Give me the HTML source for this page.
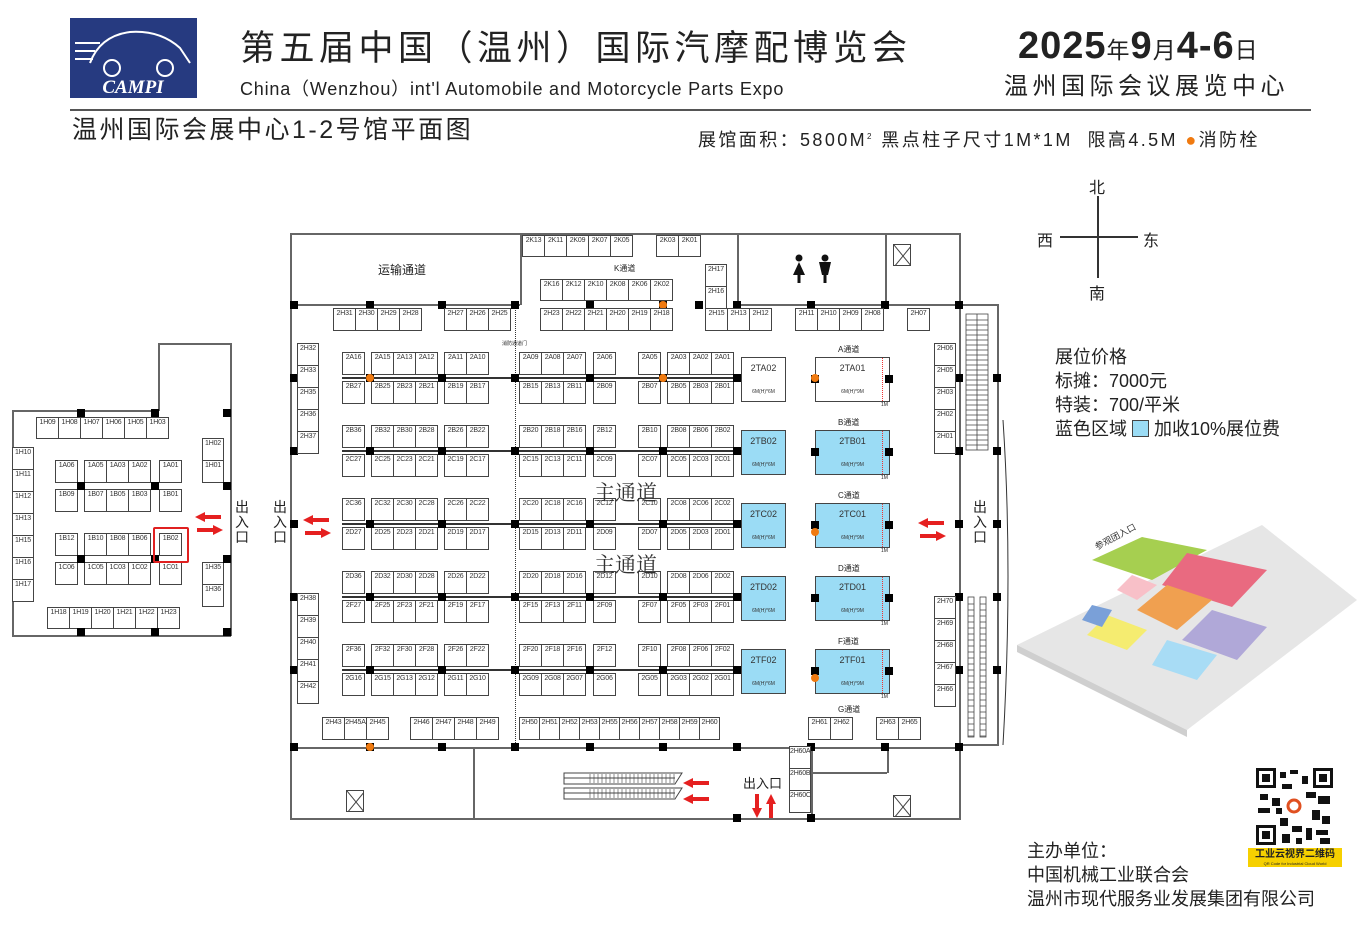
<!DOCTYPE html>
<html><head><meta charset="utf-8">
<style>
*{margin:0;padding:0;box-sizing:border-box}
body{width:1367px;height:937px;background:#fff;position:relative;overflow:hidden;font-family:"Liberation Sans","Noto Sans CJK SC",sans-serif;color:#222}
.a{position:absolute}
.b{position:absolute;border:1px solid #444;background:#fff;font-size:7px;text-align:center;line-height:10px;color:#333;white-space:nowrap;overflow:hidden;letter-spacing:-0.2px}
.bl{background:#9bdcf5}
.p{position:absolute;width:8px;height:8px;background:#000}
.o{position:absolute;width:8px;height:8px;border-radius:50%;background:#f07a10}
.l{position:absolute;background:#666}
.t{position:absolute;white-space:nowrap}
.big{position:absolute;border:1.5px solid #444;text-align:center;font-size:9px;color:#333}
.big .s{position:absolute;bottom:6px;left:0;right:0;font-size:5px}
.x{position:absolute;border:1px solid #444}
</style></head><body>

<!-- header -->
<div class="a" style="left:70px;top:18px;width:127px;height:80px;background:#263a80"></div>
<svg class="a" style="left:70px;top:18px" width="127" height="80"><g fill="none" stroke="#fff" stroke-width="2"><path d="M20 45 Q30 18 60 14 Q90 12 110 30 L120 45"/><circle cx="42" cy="50" r="8"/><circle cx="95" cy="50" r="8"/><path d="M5 25h25M5 33h20M5 41h18"/></g><text x="63" y="75" fill="#fff" font-family="Liberation Serif" font-style="italic" font-weight="bold" font-size="19" text-anchor="middle">CAMPI</text></svg>
<div class="t" style="left:240px;top:24px;font-size:35px;letter-spacing:4.5px;font-family:'Noto Sans CJK SC',sans-serif;line-height:44px">第五届中国（温州）国际汽摩配博览会</div>
<div class="t" style="left:240px;top:78px;font-size:18px;line-height:22px;letter-spacing:0.8px">China（Wenzhou）int'l Automobile and Motorcycle Parts Expo</div>
<div class="t" style="left:1018px;top:22px;font-size:38px;font-weight:bold;line-height:48px;letter-spacing:1px">2025<span style="font-size:23px;font-weight:normal">年</span>9<span style="font-size:23px;font-weight:normal">月</span>4-6<span style="font-size:23px;font-weight:normal">日</span></div>
<div class="t" style="left:1004px;top:72px;font-size:24px;letter-spacing:4.5px;line-height:30px">温州国际会议展览中心</div>
<div class="a" style="left:70px;top:109px;width:1241px;height:2px;background:#555"></div>
<div class="t" style="left:72px;top:115px;font-size:25px;letter-spacing:2.5px;line-height:30px">温州国际会展中心1-2号馆平面图</div>
<div class="t" style="left:698px;top:125px;font-size:18px;letter-spacing:2.4px;line-height:24px">展馆面积：5800M<sup style="font-size:8px">2</sup> 黑点柱子尺寸1M*1M&nbsp; 限高4.5M <span style="color:#f07a10">●</span>消防栓</div>

<!-- compass -->
<div class="l" style="left:1097px;top:196px;width:2px;height:82px;background:#333"></div>
<div class="l" style="left:1060px;top:236px;width:78px;height:2px;background:#333"></div>
<div class="t" style="left:1089px;top:174px;font-size:16px">北</div>
<div class="t" style="left:1089px;top:280px;font-size:16px">南</div>
<div class="t" style="left:1037px;top:227px;font-size:16px">西</div>
<div class="t" style="left:1143px;top:227px;font-size:16px">东</div>

<div class="t" style="left:1055px;top:345px;font-size:18px;line-height:24px">展位价格<br>标摊：7000元<br>特装：700/平米<br>蓝色区域 <span style="display:inline-block;width:17px;height:17px;background:#9bdcf5;border:1px solid #444;vertical-align:-2px"></span> 加收10%展位费</div>

<!-- map -->
<svg class="a" style="left:1012px;top:515px" width="350" height="225">
<polygon points="5,130 250,10 345,85 175,215" fill="#e6e6e6"/>
<polygon points="5,130 175,215 175,222 5,137" fill="#cfcfcf"/>
<polygon points="130,22 195,35 140,65 80,45" fill="#a6cf50"/>
<polygon points="175,38 255,55 220,92 150,70" fill="#e96a80"/>
<polygon points="155,70 200,85 165,115 125,95" fill="#f0a050"/>
<polygon points="200,95 255,112 225,145 170,125" fill="#b0a8d8"/>
<polygon points="120,60 145,70 125,85 105,75" fill="#f8c0c8"/>
<polygon points="95,100 135,115 115,135 75,120" fill="#f5ec70"/>
<polygon points="155,125 205,140 185,165 140,150" fill="#a8dcf5"/>
<polygon points="80,90 100,95 90,112 70,105" fill="#7aa0d8"/>
<text x="85" y="35" font-size="9" transform="rotate(-28 85 35)" fill="#333">参观团入口</text>
</svg>

<!-- QR -->
<svg class="a" style="left:1256px;top:768px" width="77" height="77">
<rect width="77" height="77" fill="#fff"/>
<g fill="#111">
<rect x="0" y="0" width="20" height="20"/><rect x="57" y="0" width="20" height="20"/><rect x="0" y="57" width="20" height="20"/>
<rect x="24" y="4" width="6" height="6"/><rect x="34" y="2" width="8" height="4"/><rect x="46" y="8" width="6" height="8"/><rect x="26" y="16" width="10" height="5"/><rect x="4" y="26" width="8" height="6"/><rect x="16" y="30" width="8" height="8"/><rect x="2" y="40" width="12" height="5"/><rect x="50" y="24" width="10" height="6"/><rect x="62" y="28" width="12" height="8"/><rect x="56" y="42" width="8" height="10"/><rect x="66" y="48" width="8" height="8"/><rect x="24" y="50" width="8" height="8"/><rect x="36" y="58" width="10" height="6"/><rect x="50" y="60" width="6" height="12"/><rect x="60" y="62" width="12" height="5"/><rect x="26" y="66" width="8" height="9"/><rect x="40" y="70" width="6" height="6"/><rect x="64" y="70" width="10" height="6"/><rect x="20" y="40" width="6" height="6"/>
</g>
<g fill="#fff"><rect x="3" y="3" width="14" height="14"/><rect x="60" y="3" width="14" height="14"/><rect x="3" y="60" width="14" height="14"/></g>
<g fill="#111"><rect x="6" y="6" width="8" height="8"/><rect x="63" y="6" width="8" height="8"/><rect x="6" y="63" width="8" height="8"/></g>
<circle cx="38" cy="38" r="9" fill="#fff"/><circle cx="38" cy="38" r="6" fill="none" stroke="#e05020" stroke-width="3"/>
</svg>
<div class="a" style="left:1248px;top:848px;width:94px;height:19px;background:#f6d000;text-align:center;font-size:10px;font-weight:bold;line-height:13px">工业云视界二维码<div style="font-size:4px;font-weight:normal;line-height:5px">QR Code for Industrial Cloud World</div></div>

<div class="t" style="left:1027px;top:839px;font-size:18px;line-height:24px">主办单位：<br>中国机械工业联合会<br>温州市现代服务业发展集团有限公司</div>

<div id="fp"></div>
<script>
var H='';
function B(x,y,w,h,t,c){H+='<div class="b'+(c?' bl':'')+'" style="left:'+x+'px;top:'+y+'px;width:'+w+'px;height:'+h+'px">'+t+'</div>';}
function P(x,y){H+='<div class="p" style="left:'+(x-4)+'px;top:'+(y-4)+'px"></div>';}
function O(x,y){H+='<div class="o" style="left:'+(x-4)+'px;top:'+(y-4)+'px"></div>';}
function L(x,y,w,h,c){H+='<div class="l" style="left:'+x+'px;top:'+y+'px;width:'+w+'px;height:'+h+'px'+(c?';background:'+c:'')+'"></div>';}
function T(x,y,s,t,e){H+='<div class="t" style="left:'+x+'px;top:'+y+'px;font-size:'+s+'px;'+(e||'')+'">'+t+'</div>';}
function X(x,y,w,h){H+='<svg class="x" style="left:'+x+'px;top:'+y+'px" width="'+w+'" height="'+h+'"><path d="M0 0L'+w+' '+h+'M'+w+' 0L0 '+h+'" stroke="#444"/></svg>';}
function row(x0,y,w,h,arr){for(var i=0;i<arr.length;i++)B(x0+i*w,y,w+1,h,arr[i]);}
function col(x,y0,w,h,arr){for(var i=0;i<arr.length;i++)B(x,y0+i*h,w,h+1,arr[i]);}

/* ===== Hall 1 ===== */
L(12,410,146,1.5);L(158,343,1.5,68);L(158,343,73,1.5);L(230,343,1.5,293);L(12,410,1.5,226);L(12,635,219,1.5);
row(36,417,22,22,['1H09','1H08','1H07','1H06','1H05','1H03']);
col(12,447,22,22,['1H10','1H11','1H12','1H13','1H15','1H16','1H17']);
B(55,460,23,23,'1A06');row(84,460,22,23,['1A05','1A03','1A02']);B(159,460,23,23,'1A01');
B(55,489,23,23,'1B09');row(84,489,22,23,['1B07','1B05','1B03']);B(159,489,23,23,'1B01');
B(55,533,23,23,'1B12');row(84,533,22,23,['1B10','1B08','1B06']);B(159,533,23,23,'1B02');
B(55,562,23,23,'1C06');row(84,562,22,23,['1C05','1C03','1C02']);B(159,562,23,23,'1C01');
col(202,438,22,22,['1H02','1H01']);col(202,562,22,22,['1H35','1H36']);
row(47,607,22,22,['1H18','1H19','1H20','1H21','1H22','1H23']);
P(81,413);P(155,413);P(227,413);P(81,486);P(155,486);P(227,486);P(81,559);P(155,559);P(227,559);P(81,632);P(155,632);P(227,632);
H+='<div class="a" style="left:153px;top:527px;width:36px;height:36px;border:2.5px solid #e02020;border-radius:2px"></div>';
T(235,500,14,'出<br>入<br>口','line-height:15px');

/* ===== Hall 2 walls ===== */
L(290,233,670,1.5);L(290,233,1.5,587);L(959,233,1.5,587);L(290,818,670,1.5);
L(290,304,230,1.5);L(520,233,1.5,72);L(737,233,1.5,72);L(737,304,222,1.5);L(885,233,1.5,72);
L(959,304,38,1.5);L(997,304,1.5,442);L(959,744,38,1.5);
L(290,747,669,1.5);L(473,747,1.5,72);L(811,747,1.5,72);L(811,772,76,1.5);L(887,747,1.5,26);
H+='<div class="a" style="left:515px;top:305px;width:0;height:440px;border-left:1.5px dotted #333"></div>';
T(502,340,5,'消防通道门');
T(378,261,12,'运输通道');T(614,263,8,'K通道');
[294,370,442,515,590,663,737,811,885,959].forEach(function(x){P(x,305);});P(699,305);
[378,451,524,597,670].forEach(function(y){P(294,y);P(959,y);P(997,y);});
[294,370,442,515,590,663,737,811,885,959].forEach(function(x){P(x,747);});P(737,818);P(811,818);
O(370,747);O(663,305);
X(893,244,18,22);
H+='<svg class="a" style="left:788px;top:254px" width="50" height="32"><circle cx="11" cy="4" r="3.5" fill="#111"/><path d="M11 8L5 21H17Z" fill="#111"/><rect x="9.5" y="20" width="3" height="9" fill="#111"/><circle cx="37" cy="4" r="3.5" fill="#111"/><path d="M31 8H43L40 21H34Z" fill="#111"/><rect x="35.5" y="20" width="3" height="9" fill="#111"/></svg>';
row(522,235,22,22,['2K13','2K11','2K09','2K07','2K05']);row(656,235,22,22,['2K03','2K01']);
row(540,279,22,22,['2K16','2K12','2K10','2K08','2K06','2K02']);
row(540,308,22,23,['2H23','2H22','2H21','2H20','2H19','2H18']);
col(705,264,22,22,['2H17','2H16']);row(705,308,22,23,['2H15','2H13','2H12']);
row(333,308,22,23,['2H31','2H30','2H29','2H28']);row(444,308,22,23,['2H27','2H26','2H25']);
row(795,308,22,23,['2H11','2H10','2H09','2H08']);B(907,308,23,23,'2H07');
col(297,343,22,22,['2H32','2H33','2H35','2H36','2H37']);
col(297,593,22,22,['2H38','2H39','2H40','2H41','2H42']);
col(934,343,22,22,['2H06','2H05','2H03','2H02','2H01']);
col(934,596,22,22,['2H70','2H69','2H68','2H67','2H66']);
var cols=[[342],[371,393,415],[444,466],[519,541,563],[593],[638],[667,689,711]];
function blk(y,labs){var k=0;for(var c=0;c<cols.length;c++)for(var j=0;j<cols[c].length;j++){B(cols[c][j],y,23,23,labs[k++]);}}
var R=[[352,'2A16 2A15 2A13 2A12 2A11 2A10 2A09 2A08 2A07 2A06 2A05 2A03 2A02 2A01'],
[381,'2B27 2B25 2B23 2B21 2B19 2B17 2B15 2B13 2B11 2B09 2B07 2B05 2B03 2B01'],
[425,'2B36 2B32 2B30 2B28 2B26 2B22 2B20 2B18 2B16 2B12 2B10 2B08 2B06 2B02'],
[454,'2C27 2C25 2C23 2C21 2C19 2C17 2C15 2C13 2C11 2C09 2C07 2C05 2C03 2C01'],
[498,'2C36 2C32 2C30 2C28 2C26 2C22 2C20 2C18 2C16 2C12 2C10 2C08 2C06 2C02'],
[527,'2D27 2D25 2D23 2D21 2D19 2D17 2D15 2D13 2D11 2D09 2D07 2D05 2D03 2D01'],
[571,'2D36 2D32 2D30 2D28 2D26 2D22 2D20 2D18 2D16 2D12 2D10 2D08 2D06 2D02'],
[600,'2F27 2F25 2F23 2F21 2F19 2F17 2F15 2F13 2F11 2F09 2F07 2F05 2F03 2F01'],
[644,'2F36 2F32 2F30 2F28 2F26 2F22 2F20 2F18 2F16 2F12 2F10 2F08 2F06 2F02'],
[673,'2G16 2G15 2G13 2G12 2G11 2G10 2G09 2G08 2G07 2G06 2G05 2G03 2G02 2G01']];
R.forEach(function(r){blk(r[0],r[1].split(' '));});
[378,451,524,597,670].forEach(function(y,i){L(342,y-1,396,1.5,'#333');[370,442,515,590,663,737].forEach(function(x){P(x,y);});});
O(370,378);O(663,378);
var bg=[['2TA',357,0,'A'],['2TB',430,1,'B'],['2TC',503,1,'C'],['2TD',576,1,'D'],['2TF',649,1,'F']];
bg.forEach(function(g){var y=g[1],c=g[2]?'#9bdcf5':'#fff';
H+='<div class="big" style="left:741px;top:'+y+'px;width:45px;height:45px;background:'+c+'"><div style="margin-top:5px">'+g[0]+'02</div><div class="s">6M(H)*6M</div></div>';
H+='<div class="big" style="left:815px;top:'+y+'px;width:75px;height:45px;background:'+c+'"><div style="margin-top:5px">'+g[0]+'01</div><div class="s">6M(H)*9M</div><div style="position:absolute;right:6px;top:0;bottom:0;border-right:1px dotted #e33"></div></div>';
T(881,y+45,5,'1M');T(838,y-13,8,g[3]+'通道');P(815,y+22);P(889,y+22);});
T(838,704,8,'G通道');O(815,378);O(815,532);O(815,678);
T(594,477,21,'主通道','font-family:Liberation Serif,Noto Serif CJK SC,serif;color:#333');
T(594,549,21,'主通道','font-family:Liberation Serif,Noto Serif CJK SC,serif;color:#333');
row(322,717,22,23,['2H43','2H45A','2H45']);row(410,717,22,23,['2H46','2H47','2H48','2H49']);
row(519,717,20,23,['2H50','2H51','2H52','2H53','2H55','2H56','2H57','2H58','2H59','2H60']);
row(808,717,22,23,['2H61','2H62']);row(876,717,22,23,['2H63','2H65']);
col(789,746,22,22,['2H60A','2H60B','2H60C']);
X(346,790,18,22);X(893,795,18,22);
H+='<svg class="a" style="left:560px;top:770px" width="130" height="34"><g fill="none" stroke="#444"><path d="M4 3H122L115 14H4Z"/><path d="M4 18H122L115 29H4Z"/><path d="M4 8H115M4 23H115"/></g><g stroke="#444" stroke-width=".6">'+(function(){var s='';for(var i=30;i<115;i+=4)s+='<path d="M'+i+' 4V13M'+i+' 19V28"/>';return s;})()+'</g></svg>';
H+='<svg class="a" style="left:964px;top:312px" width="28" height="430"><g fill="none" stroke="#444" stroke-width=".8"><rect x="2" y="2" width="22" height="136"/>'+(function(){var s='';for(var y=8;y<138;y+=5)s+='<path d="M2 '+y+'H24"/>';for(var y=292;y<425;y+=6)s+='<path d="M4 '+y+'H10M16 '+y+'H22"/>';return s;})()+'<rect x="4" y="285" width="6" height="140"/><rect x="16" y="285" width="6" height="140"/><path d="M13 2V138"/></g></svg>';
H+='<svg class="a" style="left:995px;top:420px" width="30" height="330"><path d="M8 0Q18 150 8 325" fill="none" stroke="#333"/></svg>';
function arr(x,y,dir){H+='<svg class="a" style="left:'+x+'px;top:'+y+'px" width="26" height="10"><path d="'+(dir<0?'M0 5L10 0V3H26V7H10V10Z':'M26 5L16 0V3H0V7H16V10Z')+'" fill="#e52020"/></svg>';}
arr(195,512,-1);arr(197,525,1);arr(303,515,-1);arr(305,528,1);arr(918,518,-1);arr(920,531,1);arr(683,778,-1);arr(683,794,-1);
H+='<svg class="a" style="left:752px;top:794px" width="26" height="26"><path d="M5 24L0 14H3V0H7V14H10Z" fill="#e52020"/><path d="M19 0L24 10H21V24H17V10H14Z" fill="#e52020"/></svg>';
T(273,500,14,'出<br>入<br>口','line-height:15px');T(973,500,14,'出<br>入<br>口','line-height:15px');
T(743,773,13,'出入口');
document.getElementById('fp').innerHTML=H;
</script>
</body></html>
